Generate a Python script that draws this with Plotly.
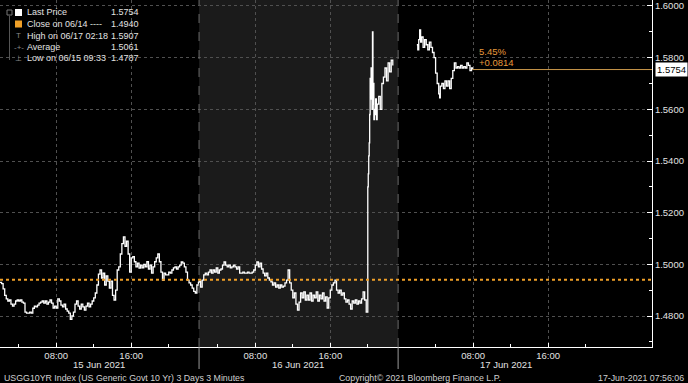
import plotly.graph_objects as go
import pandas as pd

# ---------------- data ----------------
day15_start = "2021-06-15 02:00"   # 10-minute samples
day15_yield = [
    1.4930, 1.4925, 1.4905, 1.4880,
    1.4866, 1.4858, 1.4862, 1.4846, 1.4838, 1.4846, 1.4858, 1.4862, 1.4858, 1.4862, 1.4854, 1.4850,
    1.4815, 1.4811, 1.4811, 1.4815, 1.4811,
    1.4830, 1.4838, 1.4835, 1.4842, 1.4850,
    1.4854, 1.4858, 1.4850, 1.4858, 1.4846, 1.4854, 1.4862, 1.4850, 1.4831, 1.4838, 1.4831, 1.4866,
    1.4858, 1.4842, 1.4835, 1.4846, 1.4827, 1.4819, 1.4811, 1.4787, 1.4800, 1.4815,
    1.4846, 1.4858, 1.4838, 1.4827, 1.4846, 1.4835, 1.4823, 1.4838, 1.4850, 1.4835, 1.4846, 1.4858,
    1.4870, 1.4889, 1.4920, 1.4962,
    1.4978, 1.4947, 1.4966, 1.4920, 1.4955, 1.4935, 1.4908, 1.4935, 1.4880, 1.4862, 1.4900, 1.4978,
    1.4990, 1.5040, 1.5080, 1.5106, 1.5070, 1.5090, 1.5040, 1.4970, 1.5025, 1.5030, 1.5010, 1.4990,
    1.5005, 1.4985, 1.4997, 1.4986, 1.5000, 1.4990, 1.5010, 1.4982, 1.4997, 1.4966, 1.4990, 1.5010,
    1.5025, 1.5040, 1.5010, 1.4970, 1.4939, 1.4966, 1.4959, 1.4959, 1.4970, 1.4966, 1.4978, 1.4986,
    1.4990, 1.4982, 1.4990, 1.4997, 1.5009, 1.5005, 1.4990, 1.4970, 1.4939, 1.4928, 1.4920, 1.4908,
    1.4895, 1.4889, 1.4920, 1.4930,
]

day16_start = "2021-06-16 02:00"   # 10-minute samples up to 19:50
day16_yield = [
    1.4935, 1.4912, 1.4939, 1.4959, 1.4966, 1.4959, 1.4970, 1.4978, 1.4966, 1.4978,
    1.4970, 1.4986, 1.4966, 1.4978, 1.4982, 1.4997, 1.5009, 1.4997, 1.4990, 1.4997,
    1.4986, 1.4990, 1.4997, 1.4990, 1.4982, 1.4990, 1.4966, 1.4966, 1.4970, 1.4966,
    1.4966, 1.4970, 1.4966, 1.4966, 1.4970, 1.4978, 1.4997, 1.5009, 1.4990, 1.5005,
    1.4982, 1.4966, 1.4955, 1.4966, 1.4947, 1.4939, 1.4932, 1.4920, 1.4928, 1.4912,
    1.4920, 1.4908, 1.4920, 1.4912, 1.4916, 1.4928, 1.4939, 1.4978, 1.4928, 1.4900,
    1.4870, 1.4889, 1.4846, 1.4823, 1.4854, 1.4889, 1.4870, 1.4893, 1.4862, 1.4881,
    1.4862, 1.4889, 1.4858, 1.4881, 1.4870, 1.4893, 1.4858, 1.4881, 1.4866, 1.4889,
    1.4858, 1.4874, 1.4831, 1.4870, 1.4900, 1.4920, 1.4928, 1.4939, 1.4900, 1.4889,
    1.4900, 1.4881, 1.4889, 1.4866, 1.4854, 1.4862, 1.4846, 1.4827, 1.4858, 1.4850,
    1.4862, 1.4846, 1.4858, 1.4850, 1.4866, 1.4893, 1.4862, 1.4815,
]

fomc_times = [
    "2021-06-16 20:00", "2021-06-16 20:03", "2021-06-16 20:06", "2021-06-16 20:09",
    "2021-06-16 20:12", "2021-06-16 20:15", "2021-06-16 20:18", "2021-06-16 20:21",
    "2021-06-16 20:24", "2021-06-16 20:27", "2021-06-16 20:30", "2021-06-16 20:33",
    "2021-06-16 20:36", "2021-06-16 20:39", "2021-06-16 20:42", "2021-06-16 20:45",
    "2021-06-16 20:50", "2021-06-16 20:55", "2021-06-16 21:00", "2021-06-16 21:10",
    "2021-06-16 21:20", "2021-06-16 21:30", "2021-06-16 21:40", "2021-06-16 21:50",
    "2021-06-16 22:00", "2021-06-16 22:10", "2021-06-16 22:20", "2021-06-16 22:30",
    "2021-06-16 22:40",
]
fomc_yield = [
    1.5300, 1.5350, 1.5420, 1.5470, 1.5580, 1.5720, 1.5640, 1.5760, 1.5650, 1.5600,
    1.5900, 1.5620, 1.5700, 1.5560, 1.5600, 1.5580, 1.5640, 1.5560, 1.5620, 1.5650,
    1.5600, 1.5700, 1.5725, 1.5760, 1.5710, 1.5780, 1.5745, 1.5790, 1.5770,
]

day17_times = [
    "2021-06-17 02:00", "2021-06-17 02:06", "2021-06-17 02:12", "2021-06-17 02:18",
    "2021-06-17 02:24", "2021-06-17 02:30", "2021-06-17 02:40", "2021-06-17 02:50",
    "2021-06-17 03:00", "2021-06-17 03:10", "2021-06-17 03:20", "2021-06-17 03:30",
    "2021-06-17 03:40", "2021-06-17 03:50", "2021-06-17 04:00", "2021-06-17 04:10",
    "2021-06-17 04:20", "2021-06-17 04:26", "2021-06-17 04:30", "2021-06-17 04:40",
    "2021-06-17 04:50", "2021-06-17 05:00", "2021-06-17 05:10", "2021-06-17 05:20",
    "2021-06-17 05:30", "2021-06-17 05:40", "2021-06-17 05:50", "2021-06-17 06:00",
    "2021-06-17 06:10", "2021-06-17 06:20", "2021-06-17 06:30", "2021-06-17 06:40",
    "2021-06-17 06:50", "2021-06-17 07:00", "2021-06-17 07:10", "2021-06-17 07:20",
    "2021-06-17 07:30", "2021-06-17 07:40", "2021-06-17 07:50", "2021-06-17 07:56",
]
day17_yield = [
    1.5850, 1.5830, 1.5870, 1.5907, 1.5860, 1.5880, 1.5840, 1.5870, 1.5850, 1.5830,
    1.5860, 1.5840, 1.5820, 1.5800, 1.5740, 1.5700, 1.5660, 1.5644, 1.5690, 1.5700,
    1.5680, 1.5710, 1.5690, 1.5710, 1.5680, 1.5720, 1.5750, 1.5780, 1.5760, 1.5765,
    1.5760, 1.5770, 1.5760, 1.5765, 1.5760, 1.5780, 1.5770, 1.5750, 1.5760, 1.5754,
]

close_prev = 1.4940
last_price = day17_yield[-1]

legend_labels = ["Last Price", "Close on 06/14 ----", "High on 06/17 02:18", "Average", "Low on 06/15 09:33"]
legend_values = ["1.5754", "1.4940", "1.5907", "1.5061", "1.4787"]

y_ticks = [1.48, 1.50, 1.52, 1.54, 1.56, 1.58, 1.60]
y_minor = [1.47, 1.49, 1.51, 1.53, 1.55, 1.57, 1.59]
x_ticks = ["2021-06-15 08:00", "2021-06-15 16:00", "2021-06-16 08:00", "2021-06-16 16:00",
           "2021-06-17 08:00", "2021-06-17 16:00"]
x_minor = ["2021-06-15 04:00", "2021-06-15 12:00", "2021-06-15 20:00",
           "2021-06-16 04:00", "2021-06-16 12:00", "2021-06-16 20:00",
           "2021-06-17 04:00", "2021-06-17 12:00", "2021-06-17 20:00"]
day_labels = ["15 Jun 2021", "16 Jun 2021", "17 Jun 2021"]
day_label_pos = ["2021-06-15 12:34", "2021-06-16 12:34", "2021-06-17 11:31"]
day_starts = ["2021-06-16 02:00", "2021-06-17 00:00"]
x_range = ["2021-06-15 02:00", "2021-06-18 03:05"]

# ---------------- build ----------------
t15 = list(pd.date_range(day15_start, periods=len(day15_yield), freq="10min"))
t16 = list(pd.date_range(day16_start, periods=len(day16_yield), freq="10min"))
tf = list(pd.to_datetime(fomc_times))
t17 = list(pd.to_datetime(day17_times))

xs = t15 + t16 + tf + [None] + t17
ys = day15_yield + day16_yield + fomc_yield + [None] + day17_yield

FONT = "Liberation Sans, Arial, sans-serif"
W, H = 652, 347
TXT = "#e2e2e2"


def px(x):
    return x / W


def py(y):
    return (H - y) / H


fig = go.Figure()
fig.add_trace(go.Scatter(x=xs, y=ys, mode="lines", connectgaps=False,
                         line=dict(color="white", width=1.3, shape="hv"),
                         hoverinfo="skip"))

shapes = []
# shaded middle day
shapes.append(dict(type="rect", xref="x", yref="paper", x0="2021-06-16 02:00", x1="2021-06-16 23:14",
                   y0=0, y1=1, fillcolor="#1b1b1b", line=dict(width=0), layer="below"))
for d in day_starts:
    shapes.append(dict(type="line", xref="x", yref="paper", x0=d, x1=d, y0=0, y1=1,
                       line=dict(color="#6a6a6a", width=1, dash="dash")))
    shapes.append(dict(type="line", xref="x", yref="paper", x0=d, x1=d, y0=0, y1=py(369),
                       line=dict(color="#9a9a9a", width=1)))
# previous close (dotted orange)
shapes.append(dict(type="line", xref="paper", yref="y", x0=0, x1=1, y0=close_prev, y1=close_prev,
                   line=dict(color="#f0a028", width=2, dash="dot")))
# last price line
shapes.append(dict(type="line", xref="x", yref="y", x0=t17[-1], x1=x_range[1], y0=last_price, y1=last_price,
                   line=dict(color="#c8964a", width=1)))
# legend icons
rows = [12.5, 24, 35.5, 47, 58.5]
shapes.append(dict(type="rect", xref="paper", yref="paper", x0=px(7), x1=px(12), y0=py(15), y1=py(10),
                   line=dict(color="#777", width=1)))
shapes.append(dict(type="line", xref="paper", yref="paper", x0=px(9.5), x1=px(9.5), y0=py(15.5), y1=py(60),
                   line=dict(color="#555", width=1)))
shapes.append(dict(type="rect", xref="paper", yref="paper", x0=px(15), x1=px(22), y0=py(rows[0] + 3.5),
                   y1=py(rows[0] - 3.5), fillcolor="white", line=dict(width=0)))
shapes.append(dict(type="rect", xref="paper", yref="paper", x0=px(15), x1=px(22), y0=py(rows[1] + 3.5),
                   y1=py(rows[1] - 3.5), fillcolor="#f0a028", line=dict(width=0)))

annotations = []
icons = [None, None, "T", "-+-", "⊥"]
for r, lab, val, ic in zip(rows, legend_labels, legend_values, icons):
    annotations.append(dict(x=px(25), y=py(r), xref="paper", yref="paper", text=lab, showarrow=False,
                            xanchor="left", yanchor="middle", font=dict(size=9, color=TXT)))
    annotations.append(dict(x=px(141), y=py(r), xref="paper", yref="paper", text=val, showarrow=False,
                            xanchor="right", yanchor="middle", font=dict(size=9, color=TXT)))
    if ic:
        annotations.append(dict(x=px(18.5), y=py(r), xref="paper", yref="paper", text=ic, showarrow=False,
                                xanchor="center", yanchor="middle", font=dict(size=8, color="#888")))

chg = last_price - close_prev
pct = chg / close_prev * 100
annotations.append(dict(x=px(477), y=py(51), xref="paper", yref="paper", text=f"{pct:.2f}%", showarrow=False,
                        xanchor="left", yanchor="middle", font=dict(size=9.5, color="#e89a3c")))
annotations.append(dict(x=px(477), y=py(62.5), xref="paper", yref="paper", text=f"{chg:+.4f}", showarrow=False,
                        xanchor="left", yanchor="middle", font=dict(size=9.5, color="#e89a3c")))
annotations.append(dict(x=px(655), y=last_price, xref="paper", yref="y", text=f"{last_price:.4f}",
                        showarrow=False, xanchor="left", yanchor="middle", bgcolor="white", borderpad=1,
                        font=dict(size=9.5, color="black")))
for lab, pos in zip(day_labels, day_label_pos):
    annotations.append(dict(x=pos, y=py(364.5), xref="x", yref="paper", text=lab, showarrow=False,
                            xanchor="center", yanchor="middle", font=dict(size=9.5, color=TXT)))
annotations.append(dict(x=px(2), y=py(377.5), xref="paper", yref="paper",
                        text="USGG10YR Index (US Generic Govt 10 Yr) 3 Days 3 Minutes", showarrow=False,
                        xanchor="left", yanchor="middle", font=dict(size=8.8, color="#d0d0d0")))
annotations.append(dict(x=px(420), y=py(377.5), xref="paper", yref="paper",
                        text="Copyright© 2021 Bloomberg Finance L.P.", showarrow=False,
                        xanchor="center", yanchor="middle", font=dict(size=8.8, color="#d0d0d0")))
annotations.append(dict(x=px(686), y=py(377.5), xref="paper", yref="paper",
                        text="17-Jun-2021 07:56:06", showarrow=False,
                        xanchor="right", yanchor="middle", font=dict(size=8.8, color="#d0d0d0")))

fig.update_layout(
    width=688, height=383,
    margin=dict(l=0, r=36, t=0, b=36),
    paper_bgcolor="black", plot_bgcolor="black",
    showlegend=False,
    font=dict(family=FONT, size=10, color="#dcdcdc"),
    shapes=shapes, annotations=annotations,
    xaxis=dict(
        type="date", range=x_range,
        rangebreaks=[dict(values=["2021-06-15 23:14"], dvalue=(2 * 60 + 46) * 60000),
                     dict(values=["2021-06-16 23:14"], dvalue=46 * 60000)],
        tickvals=x_ticks, tickformat="%H:%M",
        ticks="inside", ticklen=4, tickcolor="white",
        showline=True, linecolor="white", linewidth=1,
        showgrid=True, gridcolor="#505050", griddash="dot", gridwidth=1,
        zeroline=False, tickfont=dict(size=9.5, color=TXT),
        minor=dict(tickvals=x_minor, ticks="inside", ticklen=3, tickcolor="white", showgrid=False),
    ),
    yaxis=dict(
        side="right", range=[1.468, 1.60232],
        tickvals=y_ticks, tickformat=".4f",
        ticks="inside", ticklen=5, tickcolor="white",
        showline=True, linecolor="white", linewidth=1,
        showgrid=True, gridcolor="#505050", griddash="dot", gridwidth=1,
        zeroline=False, tickfont=dict(size=9.5, color=TXT),
        minor=dict(tickvals=y_minor, ticks="inside", ticklen=3, tickcolor="white", showgrid=False),
    ),
)

fig.write_html("out.html")
